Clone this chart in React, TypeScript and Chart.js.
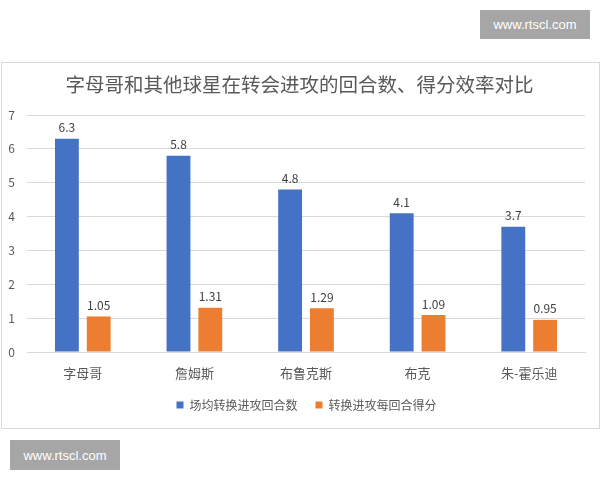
import React, { useEffect, useRef } from "react";
import { Chart, registerables } from "chart.js";

Chart.register(...registerables);

const TITLE = "字母哥和其他球星在转会进攻的回合数、得分效率对比";
const CATEGORIES = ["字母哥", "詹姆斯", "布鲁克斯", "布克", "朱-霍乐迪"];
const SERIES_A_NAME = "场均转换进攻回合数";
const SERIES_A = [6.3, 5.8, 4.8, 4.1, 3.7];
const SERIES_B_NAME = "转换进攻每回合得分";
const SERIES_B = [1.05, 1.31, 1.29, 1.09, 0.95];
const Y_MIN = 0;
const Y_MAX = 7;
const Y_STEP = 1;
const WATERMARK = "www.rtscl.com";

const FONT = "'Noto Sans CJK SC', 'Noto Sans', sans-serif";
const TEXT = "#595959";
const GRID = "#d9d9d9";

const valueLabels = {
  id: "valueLabels",
  afterDatasetsDraw(chart: any) {
    const ctx = chart.ctx;
    ctx.save();
    ctx.fillStyle = "#404040";
    ctx.font = `12px ${FONT}`;
    ctx.textAlign = "center";
    ctx.textBaseline = "bottom";
    chart.data.datasets.forEach((ds: any, i: number) => {
      const meta = chart.getDatasetMeta(i);
      meta.data.forEach((el: any, j: number) => {
        ctx.fillText(String(ds.data[j]), el.x, el.y - 5);
      });
    });
    ctx.restore();
  },
};

const boxTweaks = {
  id: "boxTweaks",
  beforeInit(chart: any) {
    const legend = chart.legend;
    if (!legend) return;
    const orig = legend.fit;
    legend.fit = function () {
      orig.call(this);
      this.height = 47;
    };
  },
  afterLayout(chart: any) {
    const legend = chart.legend;
    if (legend) {
      legend.left += 13;
      legend.right += 13;
    }
    const title = chart.titleBlock;
    if (title) {
      title.left += 6;
      title.right += 6;
    }
  },
};

function ChartBox() {
  const ref = useRef<HTMLCanvasElement | null>(null);
  useEffect(() => {
    if (!ref.current) return;
    const chart = new Chart(ref.current, {
      type: "bar",
      data: {
        labels: CATEGORIES,
        datasets: [
          { label: SERIES_A_NAME, data: SERIES_A, backgroundColor: "#4472c4" },
          { label: SERIES_B_NAME, data: SERIES_B, backgroundColor: "#ed7d31" },
        ],
      },
      options: {
        animation: false,
        responsive: false,
        maintainAspectRatio: false,
        devicePixelRatio: 1,
        datasets: { bar: { categoryPercentage: 0.57, barPercentage: 0.75 } },
        layout: { padding: { left: 0, right: 14, top: 0, bottom: 0 } },
        plugins: {
          title: {
            display: true,
            text: TITLE,
            color: TEXT,
            font: { family: FONT, size: 19.5, weight: "normal" as any },
            padding: { top: 10, bottom: 18.6 },
          },
          legend: {
            position: "bottom",
            labels: {
              boxWidth: 7,
              boxHeight: 7,
              padding: 18,
              color: TEXT,
              font: { family: FONT, size: 12 },
            },
          },
          tooltip: { enabled: false },
        },
        scales: {
          x: {
            grid: { display: false, drawTicks: false },
            border: { display: true, color: GRID },
            ticks: { color: TEXT, font: { family: FONT, size: 13 }, padding: 13 },
            afterFit(scale: any) {
              scale.height = 29;
            },
          },
          y: {
            min: Y_MIN,
            max: Y_MAX,
            ticks: { stepSize: Y_STEP, color: TEXT, font: { family: FONT, size: 12 }, padding: 12 },
            grid: { color: GRID, drawTicks: false },
            border: { display: false },
            afterFit(scale: any) {
              scale.width = 25;
            },
          },
        },
      },
      plugins: [boxTweaks, valueLabels],
    });
    return () => chart.destroy();
  }, []);
  return <canvas ref={ref} width={597} height={365} style={{ display: "block" }} />;
}

const wmStyle: React.CSSProperties = {
  position: "absolute",
  background: "#a6a6a6",
  color: "#ffffff",
  font: "13px 'Liberation Sans', Arial, sans-serif",
  display: "flex",
  alignItems: "center",
  justifyContent: "center",
};

export default function App() {
  return (
    <div style={{ position: "absolute", left: 0, top: 0, width: 600, height: 480, background: "#fff" }}>
      <div style={{ ...wmStyle, left: 480, top: 10, width: 110, height: 29 }}>{WATERMARK}</div>
      <div
        style={{
          position: "absolute",
          left: 1,
          top: 62,
          width: 597,
          height: 365,
          border: `1px solid ${GRID}`,
        }}
      >
        <ChartBox />
      </div>
      <div style={{ ...wmStyle, left: 10, top: 440, width: 110, height: 30 }}>{WATERMARK}</div>
    </div>
  );
}
